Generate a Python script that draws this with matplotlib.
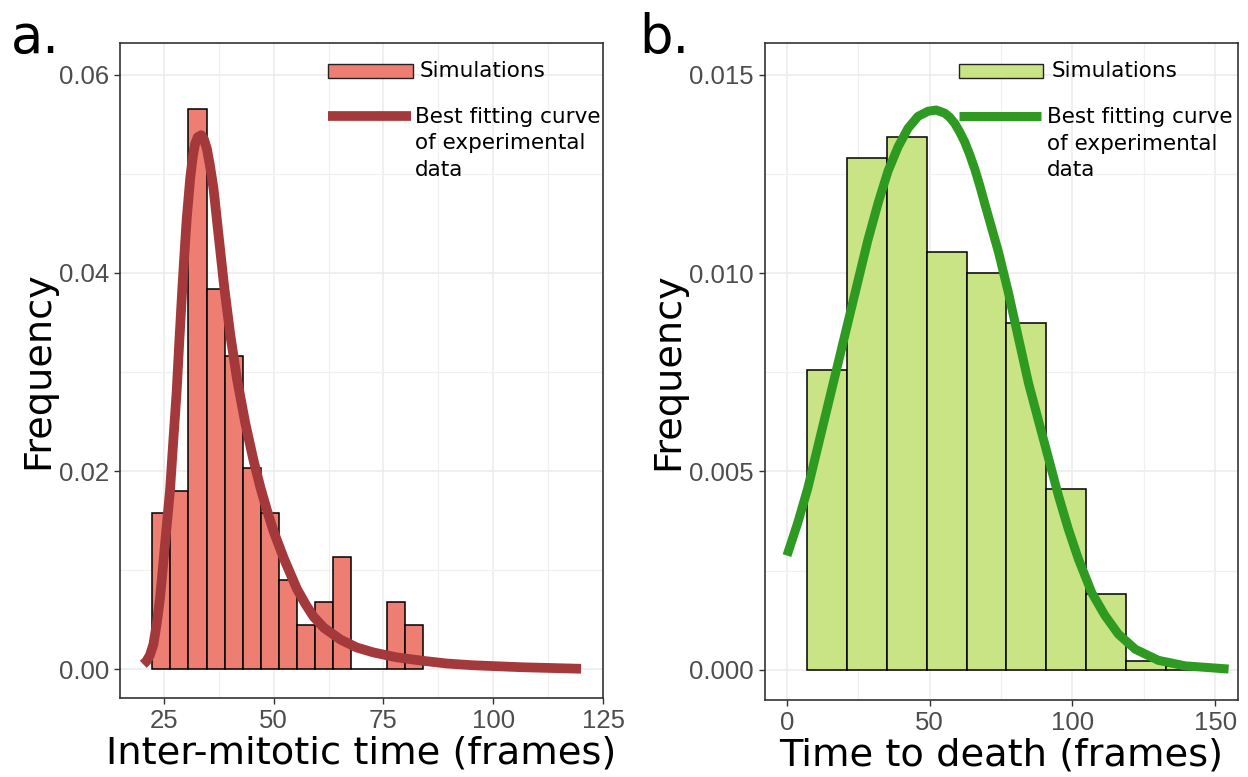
import numpy as np
import matplotlib.pyplot as plt
from matplotlib.patches import Rectangle
from matplotlib.ticker import MultipleLocator

# ---- panel a: inter-mitotic time ----
imt_edges = [22.4, 26.5, 30.6, 34.8, 38.9, 43.0, 47.1, 51.2, 55.3, 59.4,
             63.5, 67.6, 71.7, 75.8, 79.9, 84.0]
imt_density = [0.0158, 0.0180, 0.0565, 0.0384, 0.0316, 0.0203, 0.0158, 0.0090,
               0.0045, 0.0068, 0.0113, 0.0, 0.0, 0.0068, 0.0045]
imt_fit_x = [20.3, 21.0, 21.8, 22.6, 23.3, 24.1, 24.9, 25.6, 26.4, 27.1, 27.9,
             28.5, 29.2, 29.8, 30.2, 31.0, 31.6, 32.1, 32.7, 33.5, 34.1, 34.8,
             35.5, 36.3, 37.4, 38.7, 40.1, 41.6, 43.5, 45.4, 47.0, 48.5, 50.0,
             52.3, 55.3, 57.2, 59.1, 61.4, 65.2, 68.9, 72.7, 78.0, 84.1, 89.4,
             95.5, 106.8, 120.0]
imt_fit_y = [0.0005, 0.0008, 0.0014, 0.0025, 0.0044, 0.0071, 0.0109, 0.0143,
             0.0181, 0.0228, 0.0280, 0.0330, 0.0385, 0.0428, 0.0455, 0.0496,
             0.0518, 0.0530, 0.0537, 0.0539, 0.0535, 0.0525, 0.0508, 0.0485,
             0.0440, 0.0387, 0.0338, 0.0294, 0.0249, 0.0211, 0.0183, 0.0160,
             0.0139, 0.0112, 0.0081, 0.0066, 0.0053, 0.0042, 0.0030, 0.0022,
             0.0017, 0.0012, 0.00085, 0.00058, 0.00040, 0.0002, 0.00005]

# ---- panel b: time to death ----
ttd_edges = [7.0, 20.9, 34.9, 49.0, 62.9, 76.9, 90.9, 104.8, 118.9, 132.9, 146.8]
ttd_density = [0.00756, 0.01289, 0.01342, 0.01053, 0.01000, 0.00873, 0.00456,
               0.00190, 0.00022, 0.00010]
ttd_fit_x = [0, 3.75, 7.3, 10.8, 14.3, 17.8, 21.3, 24.8, 28.3, 31.9, 35.4, 38.9,
             42.4, 45.9, 49.4, 52.3, 55.3, 57.0, 58.8, 60.5, 62.3, 64.0, 65.8,
             67.6, 69.4, 74.1, 77.6, 81.1, 84.6, 88.1, 91.6, 95.1, 98.6, 102.1,
             106.8, 111.4, 116.1, 122.0, 130.1, 139.5, 154.7]
ttd_fit_y = [0.00288, 0.00370, 0.00458, 0.00562, 0.00666, 0.00770, 0.00874,
             0.00978, 0.01082, 0.01176, 0.01257, 0.01318, 0.01365, 0.01395,
             0.01408, 0.01411, 0.01403, 0.01393, 0.01377, 0.01356, 0.01330,
             0.01299, 0.01262, 0.01219, 0.01172, 0.01053, 0.00950, 0.00836,
             0.00723, 0.00628, 0.00534, 0.00439, 0.00354, 0.00279, 0.00194,
             0.00137, 0.00090, 0.00052, 0.00024, 0.00010, 0.00002]

TICK_FONT = 'Liberation Sans'
TEXT_FONT = 'DejaVu Sans'


def style_axes(ax, xmaj, ymaj, xlim, ylim, fmt):
    ax.set_xlim(*xlim)
    ax.set_ylim(*ylim)
    ax.xaxis.set_major_locator(MultipleLocator(xmaj))
    ax.xaxis.set_minor_locator(MultipleLocator(xmaj / 2))
    ax.yaxis.set_major_locator(MultipleLocator(ymaj))
    ax.yaxis.set_minor_locator(MultipleLocator(ymaj / 2))
    ax.yaxis.set_major_formatter(plt.FuncFormatter(lambda v, p: fmt.format(v)))
    ax.grid(True, which='major', color='#EBEBEB', lw=1.1)
    ax.grid(True, which='minor', color='#F0F0F0', lw=0.9)
    ax.set_axisbelow(True)
    for s in ax.spines.values():
        s.set_color('#333333')
        s.set_linewidth(1.2)
    ax.tick_params(which='major', length=4, width=1, color='#333333',
                   labelsize=18.5, labelcolor='#4D4D4D', pad=4)
    ax.tick_params(which='minor', length=0)
    for lab in ax.get_xticklabels() + ax.get_yticklabels():
        lab.set_fontfamily(TICK_FONT)


def add_legend(ax, fill, line, x0, x1, xt, lw):
    # key boxes and labels, placed like the ggplot legend inside the panel
    ax.add_patch(Rectangle((x0, 0.9466), x1 - x0, 0.0214, transform=ax.transAxes,
                           facecolor=fill, edgecolor='#222222', lw=1.0, zorder=5))
    ax.text(xt, 0.957, 'Simulations', transform=ax.transAxes, fontsize=15.5,
            family=TEXT_FONT, va='center', ha='left', zorder=5)
    ax.plot([x0, x1 - 0.004], [0.8885, 0.8885], transform=ax.transAxes,
            color=line, lw=lw, solid_capstyle='butt', zorder=5)
    ax.text(xt - 0.01, 0.9025, 'Best fitting curve\nof experimental\ndata',
            transform=ax.transAxes, fontsize=15.5, family=TEXT_FONT, va='top',
            ha='left', linespacing=1.41, zorder=5)


fig = plt.figure(figsize=(12.48, 7.77), dpi=100)

# panel a
ax1 = fig.add_axes([120 / 1248, 1 - 698 / 777, 483 / 1248, 655 / 777])
ax1.bar(imt_edges[:-1], imt_density, width=np.diff(imt_edges), align='edge',
        color='#EE7E72', edgecolor='black', lw=1.1, zorder=2)
ax1.plot(imt_fit_x, imt_fit_y, color='#A3393A', lw=7, solid_capstyle='butt',
         solid_joinstyle='round', zorder=3)
style_axes(ax1, 25, 0.02, (15, 125), (-0.0029, 0.0632), '{:.2f}')
ax1.set_xlabel('Inter-mitotic time (frames)', fontsize=27.6, family=TEXT_FONT, labelpad=2)
ax1.set_ylabel('Frequency', fontsize=27.5, family=TEXT_FONT, labelpad=2)
add_legend(ax1, '#EE7E72', '#A3393A', 0.4306, 0.6066, 0.621, 7)

# panel b
ax2 = fig.add_axes([765 / 1248, 1 - 700 / 777, 473 / 1248, 657 / 777])
ax2.bar(ttd_edges[:-1], ttd_density, width=np.diff(ttd_edges), align='edge',
        color='#C8E485', edgecolor='black', lw=1.1, zorder=2)
ax2.plot(ttd_fit_x, ttd_fit_y, color='#2E9A22', lw=6.5, solid_capstyle='butt',
         solid_joinstyle='round', zorder=3)
style_axes(ax2, 50, 0.005, (-7.7, 158), (-0.00076, 0.0158), '{:.3f}')
ax2.set_xlabel('Time to death (frames)', fontsize=27.6, family=TEXT_FONT, labelpad=2)
ax2.set_ylabel('Frequency', fontsize=27.5, family=TEXT_FONT, labelpad=2)
add_legend(ax2, '#C8E485', '#2E9A22', 0.410, 0.588, 0.606, 6.5)

fig.text(0.009, 0.985, 'a.', fontsize=38, family=TEXT_FONT, va='top', ha='left')
fig.text(0.512, 0.985, 'b.', fontsize=38, family=TEXT_FONT, va='top', ha='left')

fig.savefig('out.png', dpi=100)
